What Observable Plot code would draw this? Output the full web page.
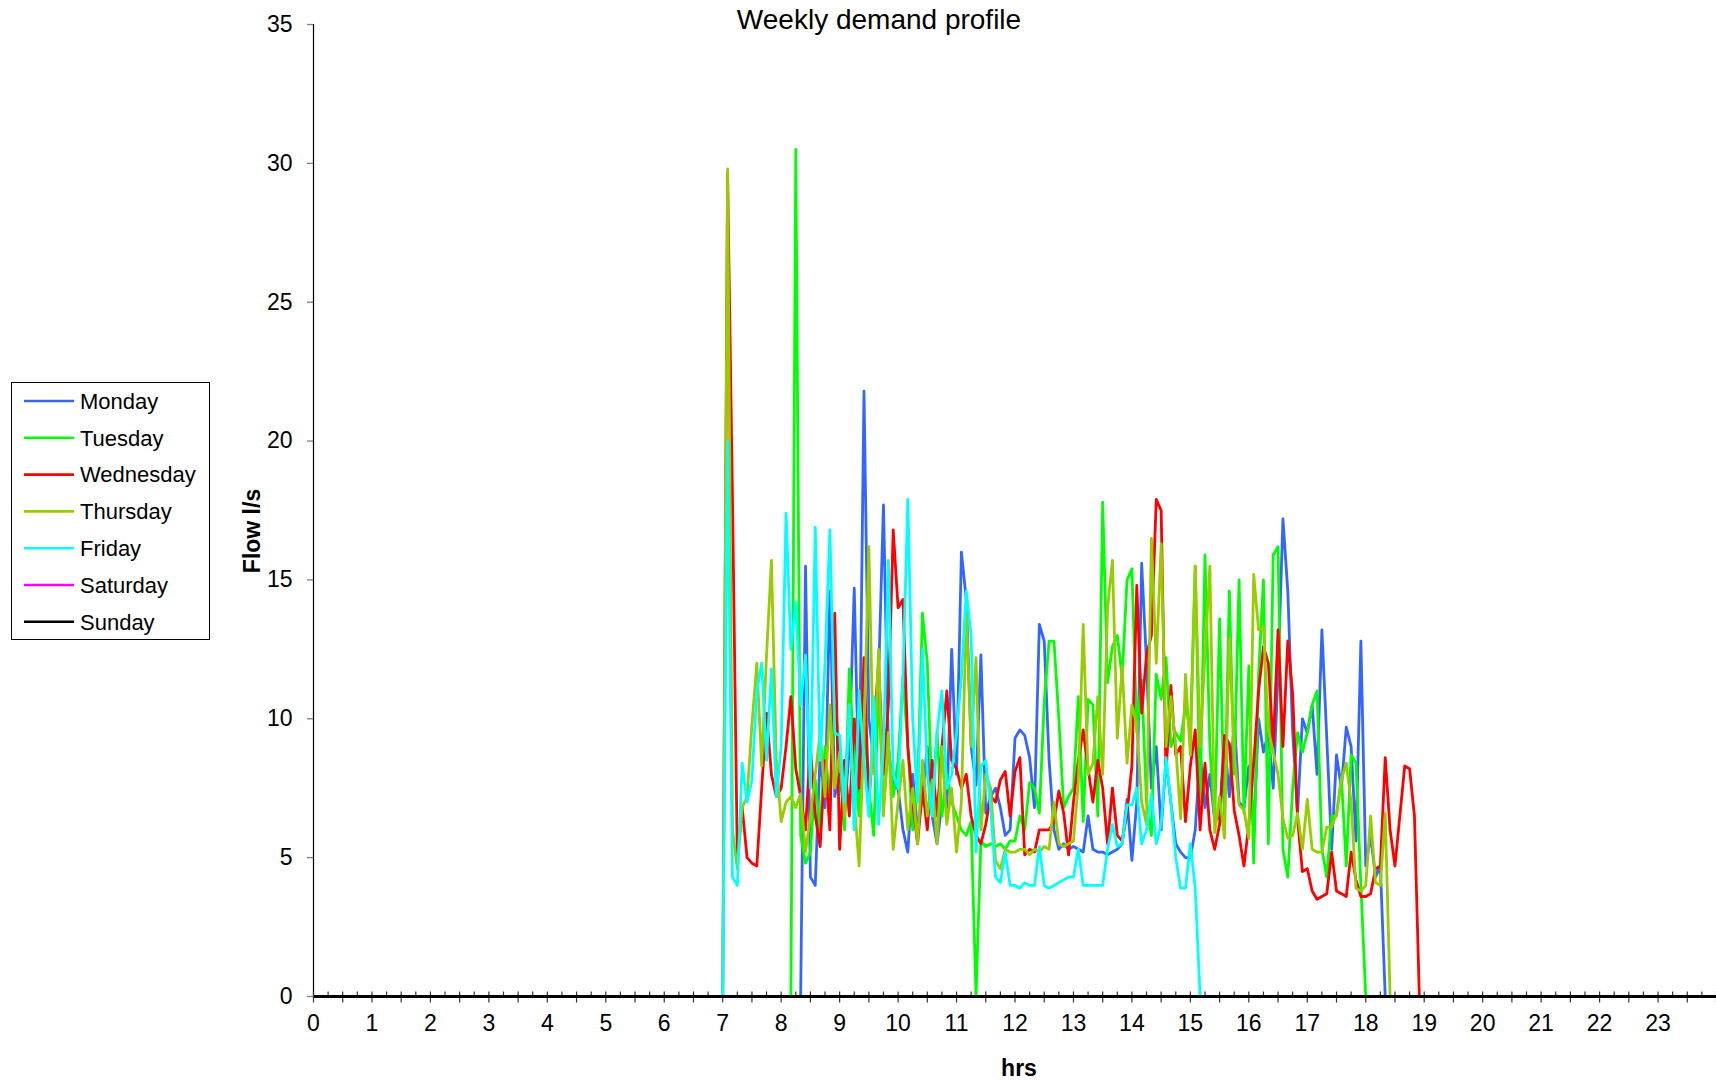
<!DOCTYPE html>
<html>
<head>
<meta charset="utf-8">
<script src="https://cdn.jsdelivr.net/npm/d3@7"></script>
<script src="https://cdn.jsdelivr.net/npm/@observablehq/plot@0.6"></script>
<style>
  html, body { margin: 0; padding: 0; background: #fff; }
  body { font-family: "Liberation Sans", Arial, Helvetica, sans-serif; color: #000; }
  #wrap { position: relative; width: 1716px; height: 1083px; overflow: hidden; }
  #wrap svg { display: block; }
  .title { position: absolute; left: 879px; top: 20px; transform: translate(-50%, -50%);
           font-size: 28px; white-space: nowrap; }
  .ylab { position: absolute; left: 252px; top: 531px; transform: translate(-50%, -50%) rotate(-90deg);
          font-size: 23px; font-weight: bold; white-space: nowrap; }
  .xlab { position: absolute; left: 1019px; top: 1068px; transform: translate(-50%, -50%);
          font-size: 23px; font-weight: bold; white-space: nowrap; }
  .legend { position: absolute; left: 11px; top: 382px; width: 197px; height: 256px;
            border: 1px solid #000; background: #fff; }
</style>
</head>
<body>
<div id="wrap">
  <div class="title">Weekly demand profile</div>
  <div class="ylab">Flow l/s</div>
  <div class="xlab">hrs</div>
  <div class="legend" id="legend"></div>
</div>
<script>
// Logged flow (l/s) for each weekday, one reading every 5 minutes from 07:00 to 19:00.
// Outside that window every day reads 0.
const days = ["Monday", "Tuesday", "Wednesday", "Thursday", "Friday", "Saturday", "Sunday"];
const dayColors = ["#3366ff", "#00ff00", "#ff0000", "#99cc00", "#00ffff", "#ff00ff", "#000000"];

const monday = [
  0,0,0,0,0,0,0,0,0,0,0,0,                               // 07
  0,0,0,0,0,15.5,4.3,4.0,8.8,6.8,14.6,7.2,               // 08
  8.0,6.5,9.0,14.7,7.0,21.8,10.0,8.5,11.5,17.7,9.0,7.5,  // 09
  7.5,6.0,5.2,8.0,6.0,7.2,9.0,6.5,5.5,7.0,6.8,12.5,      // 10
  8.0,16.0,14.3,9.0,7.6,12.3,6.6,7.2,7.5,6.8,5.8,6.0,    // 11
  9.3,9.6,9.4,8.6,6.8,13.4,12.8,8.5,6.0,5.3,5.5,5.3,     // 12
  5.4,5.3,5.2,6.5,5.3,5.2,5.2,5.1,5.2,5.3,5.5,7.1,       // 13
  4.9,7.0,15.6,12.0,7.5,9.0,6.0,8.5,7.0,5.5,5.2,5.0,     // 14
  5.0,6.0,8.8,6.8,8.0,6.3,6.5,9.3,7.2,10.0,7.0,6.8,      // 15
  8.3,6.0,10.0,8.8,9.5,7.5,11.6,17.2,14.6,9.5,6.6,10.0,  // 16
  9.5,10.5,8.0,13.2,9.3,5.3,8.7,7.5,9.7,9.0,5.6,12.8,    // 17
  4.7,5.8,4.3,4.7,0,0,0,0,0,0,0,0,                       // 18
  0                                                      // 19
];

const tuesday = [
  0,0,0,0,0,0,0,0,0,0,0,0,
  0,0,0,30.5,5.8,4.8,5.2,7.8,6.0,9.0,7.0,10.5,
  9.0,6.0,11.8,8.5,6.5,10.0,7.5,5.8,11.2,6.8,9.0,7.2,
  8.5,11.5,9.0,6.0,7.5,13.8,12.0,7.0,9.5,6.5,8.0,7.0,
  6.5,6.0,5.8,6.3,0,5.6,5.4,5.5,5.4,5.5,5.3,5.6,
  5.6,6.5,6.0,7.7,7.5,6.6,10.6,12.8,12.8,10.0,6.8,7.2,
  7.5,10.8,6.3,10.7,10.5,6.5,17.8,11.3,12.6,13.0,11.5,15.0,
  15.4,9.5,11.4,7.0,5.8,11.6,10.7,12.2,9.0,9.5,9.2,10.5,
  9.5,15.5,7.0,15.9,9.0,6.3,13.6,6.5,14.6,8.0,15.0,6.6,
  11.9,4.8,11.6,15.0,5.5,15.9,16.2,5.3,4.3,7.5,9.5,8.8,
  9.5,10.5,11.0,5.3,4.3,6.5,6.5,7.9,4.7,8.7,8.4,4.0,
  0,0,0,0,0,0,0,0,0,0,0,0,
  0
];

const wednesday = [
  0,29.6,18.0,5.0,6.8,5.0,4.8,4.7,7.5,10.2,8.0,7.2,
  7.5,9.0,10.8,8.2,7.2,6.0,9.0,6.5,5.4,8.5,6.0,13.8,
  5.3,8.5,6.5,10.0,7.5,12.2,7.0,9.5,12.0,8.0,10.5,16.8,
  14.0,14.3,9.0,7.0,5.5,7.5,6.0,8.5,6.5,9.0,11.0,8.5,
  8.2,7.5,8.0,6.5,5.8,5.5,6.2,7.2,7.0,7.8,8.1,6.5,
  8.1,8.6,5.1,5.3,5.2,6.0,6.0,6.0,6.3,7.4,6.6,5.1,
  7.0,8.5,9.6,8.2,7.0,8.5,7.5,5.5,7.5,5.8,5.6,6.6,
  8.3,14.8,10.2,12.3,13.0,17.9,17.5,8.0,11.2,8.7,9.0,6.3,
  8.3,9.6,6.0,8.4,6.0,5.3,6.2,9.4,9.1,6.7,5.8,4.7,
  6.2,8.4,11.0,12.6,12.0,9.0,13.2,9.0,12.8,10.9,6.4,4.5,
  4.6,3.8,3.5,3.6,3.7,5.2,3.8,3.7,3.6,5.2,4.2,3.6,
  3.6,3.7,4.6,4.7,8.6,6.0,4.7,6.5,8.3,8.2,6.5,0,
  0
];

const thursday = [
  0,29.8,6.0,4.6,6.8,7.2,9.8,12.0,8.3,12.3,15.7,8.5,
  6.3,7.0,7.2,6.8,7.3,5.2,6.5,8.0,9.5,7.2,10.5,7.5,
  8.8,6.5,10.5,7.0,4.7,9.5,16.2,8.0,12.5,6.5,9.5,5.3,
  7.0,8.5,6.0,7.5,5.5,8.5,6.5,7.8,5.5,9.0,6.2,7.5,
  5.2,7.0,13.9,9.0,12.2,6.0,8.0,7.5,4.9,4.6,5.3,5.2,
  5.2,5.3,5.3,5.1,5.3,5.2,5.4,5.3,7.0,5.5,5.4,5.5,
  5.6,7.7,13.4,8.0,8.4,10.8,8.0,14.0,15.7,9.3,11.9,8.4,
  10.5,9.8,7.0,6.2,16.5,12.0,16.3,9.0,10.8,9.0,6.4,11.6,
  8.7,15.5,9.0,12.3,15.5,5.9,7.2,5.7,12.9,8.8,6.9,6.7,
  5.7,15.2,13.2,13.3,9.6,8.8,8.0,6.4,5.7,5.8,6.6,5.3,
  7.1,5.3,5.2,5.2,6.1,6.1,6.6,7.8,8.4,7.0,3.9,3.8,
  4.0,6.5,4.1,4.0,6.6,0,0,0,0,0,0,0,
  0
];

const friday = [
  0,20.0,4.3,4.0,8.4,7.0,7.8,11.0,12.0,8.5,11.8,7.2,
  9.0,17.4,12.5,14.2,10.5,12.3,7.5,16.9,8.5,12.0,16.8,9.5,
  9.4,7.0,10.5,6.0,11.0,8.5,6.5,10.8,6.2,9.0,15.7,8.0,
  7.5,11.5,17.9,10.0,7.0,12.5,8.0,6.5,9.5,11.0,7.5,8.0,
  9.5,11.5,14.6,13.0,5.2,8.3,8.5,6.8,4.3,4.1,5.2,4.0,
  4.0,3.9,4.1,4.0,4.0,5.4,4.0,3.9,4.0,4.1,4.2,4.3,
  4.3,5.3,4.0,4.0,4.0,4.0,4.0,5.3,6.2,5.4,5.5,6.9,
  6.9,7.5,5.5,6.0,7.3,5.5,6.2,8.6,7.0,5.0,3.9,3.9,
  5.5,3.9,0,0,0,0,0,0,0,0,0,0,
  0,0,0,0,0,0,0,0,0,0,0,0,
  0,0,0,0,0,0,0,0,0,0,0,0,
  0,0,0,0,0,0,0,0,0,0,0,0,
  0
];

// No demand at the weekend.
const saturday = new Array(145).fill(0);
const sunday = new Array(145).fill(0);

const hourTicks = d3.range(0, 24);
const yTicks = d3.range(0, 36, 5);

// Long table: midnight, the 07:00–19:00 readings, midnight again.
const series = [monday, tuesday, wednesday, thursday, friday, saturday, sunday];
const rows = [];
series.forEach((vals, k) => {
  rows.push({day: days[k], t: 0, v: 0});
  vals.forEach((v, i) => rows.push({day: days[k], t: 7 + i / 12, v}));
  rows.push({day: days[k], t: 24, v: 0});
});

const pxPerY = (996 - 24) / 35;     // vertical pixels per l/s
const pxPerX = (1716 - 313) / 24;   // horizontal pixels per hour
const quarterTicks = d3.range(0, 24.001, 0.25);
const halfTicks = d3.range(0, 24.001, 0.5);

const chart = Plot.plot({
  width: 1716,
  height: 1083,
  marginLeft: 313,
  marginRight: 0,
  marginTop: 24,
  marginBottom: 87,
  x: {domain: [0, 24]},
  y: {domain: [0, 35]},
  color: {domain: days, range: dayColors},
  style: {
    fontFamily: '"Liberation Sans", Arial, Helvetica, sans-serif',
    fontSize: "23px",
    color: "#000",
    background: "#fff",
    overflow: "visible"
  },
  marks: [
    // axis frame line
    Plot.ruleX([0], {stroke: "#000", strokeWidth: 1.2}),
    // y ticks, pointing left
    Plot.ruleY(yTicks, {y: d => d, x1: -6 / pxPerX, x2: 0, stroke: "#808080", strokeWidth: 1.3}),
    // quarter-hour ticks crossing the axis, half-hour ones reaching further down
    Plot.ruleX(quarterTicks, {x: d => d, y1: -2 / pxPerY, y2: 4.5 / pxPerY, stroke: "#333", strokeWidth: 1.2}),
    Plot.ruleX(halfTicks, {x: d => d, y1: -6.5 / pxPerY, y2: 0, stroke: "#333", strokeWidth: 1.2}),
    Plot.axisY({ticks: yTicks, tickSize: 0, tickPadding: 21, label: null, fontSize: 23}),
    Plot.axisX({ticks: hourTicks, tickSize: 0, tickPadding: 18, label: null, fontSize: 23}),
    // demand profiles, Monday drawn first and Sunday last
    Plot.lineY(rows, {
      x: "t", y: "v", z: "day", stroke: "day",
      strokeWidth: 2.8, strokeLinejoin: "round", strokeLinecap: "butt"
    })
  ]
});
document.getElementById("wrap").prepend(chart);

// legend
const lg = d3.select("#legend").append("svg")
  .attr("width", 197).attr("height", 256);
days.forEach((d, i) => {
  const y = 18 + i * 36.8;
  lg.append("line").attr("x1", 12).attr("x2", 62).attr("y1", y).attr("y2", y)
    .attr("stroke", dayColors[i]).attr("stroke-width", 2.6);
  lg.append("text").attr("x", 68).attr("y", y).attr("dy", "0.35em")
    .attr("font-size", 22).attr("font-family", '"Liberation Sans", Arial, sans-serif')
    .attr("fill", "#000").text(d);
});
</script>
</body>
</html>
